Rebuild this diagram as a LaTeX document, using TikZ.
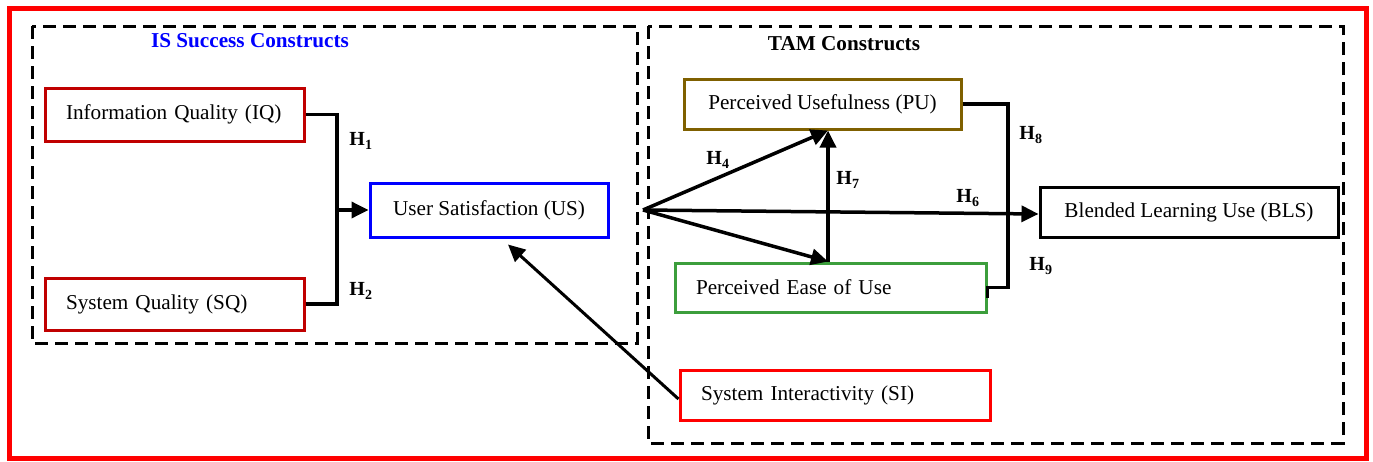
\documentclass[tikz,border=0pt]{standalone}
\usepackage{fontspec}
\setmainfont{Liberation Serif}
\usetikzlibrary{arrows.meta,calc}
\definecolor{dred}{HTML}{C00000}
\definecolor{ublue}{HTML}{0000FF}
\definecolor{pubrown}{HTML}{7F6000}
\definecolor{pgreen}{HTML}{3C9E3C}
\definecolor{sired}{HTML}{FF0000}
\begin{document}
\begin{tikzpicture}[x=1pt,y=-1pt,
  box/.style={draw, line width=3pt, inner sep=0pt, font=\fontsize{21.2}{24}\selectfont},
  lbox/.style={box, align=left, inner xsep=21pt},
  hlab/.style={font=\bfseries\fontsize{20}{22}\selectfont, inner sep=0pt},
  ttl/.style={font=\bfseries\fontsize{21.2}{24}\selectfont, inner sep=0pt},
  conn/.style={line width=3.5pt},
  arr/.style={conn, -{Triangle[length=17pt,width=16pt]}},
  arrs/.style={line width=3pt, -{Triangle[length=17pt,width=16pt]}},
  dbox/.style={draw, line width=3pt, dash pattern=on 13pt off 7pt}
]
\useasboundingbox (0,0) rectangle (1373,461);
% outer red frame
\draw[sired, line width=5pt] (9,8) rectangle (1366,458);
% dashed groups
\draw[dbox] (32,26) rectangle (637,343);
\draw[dbox] (648,26) rectangle (1343,443);
\node[ttl, text=ublue] (tIS) at (250,41) {IS Success Constructs};
\node[ttl] (tTAM) at (844,44) {TAM Constructs};
% boxes
\node[lbox, draw=dred, text width=217pt, minimum height=53pt] (IQ) at (174.5,114.5) {Information Quality (IQ)};
\node[lbox, draw=dred, text width=217pt, minimum height=52pt] (SQ) at (174.5,304) {System Quality (SQ)};
\node[box, draw=ublue, minimum width=238pt, minimum height=54pt] (US) at (489,210) {User Satisfaction (US)};
\node[box, draw=pubrown, minimum width=277pt, minimum height=50pt] (PU) at (822.5,104) {Perceived Usefulness (PU)};
\node[lbox, draw=pgreen, text width=269pt, minimum height=49pt] (PEOU) at (830.5,287.5) {Perceived Ease of Use};
\node[box, draw=black, minimum width=298pt, minimum height=50pt] (BLS) at (1189,212) {Blended Learning Use (BLS)};
\node[lbox, draw=sired, text width=268pt, minimum height=50pt] (SI) at (835,395) {System Interactivity (SI)};
% IS bracket
\coordinate (J) at (337,210);
\draw[conn] (IQ.east) -| (J);
\draw[conn] (SQ.east) -| (J);
\draw[arr] (J) -- (US.west);
\node[hlab] (h1) at (361,141) {H\textsubscript{1}};
\node[hlab] (h2) at (361,291) {H\textsubscript{2}};
% fan
\coordinate (O) at (643,210);
\coordinate (PUb) at ($(PU.south)+(5.5,0)$);
\coordinate (PEt) at ($(PEOU.north)+(-2.5,0)$);
\draw[arr] (O) -- (PUb);
\draw[arr] (O) -- (PEt);
\draw[arr] (PEt) -- (PUb);
\draw[arr] (O) -- ($(BLS.west)+(0,2)$);
% PU-PEOU bracket
\coordinate (B) at (1008,104);
\draw[conn] (PU.east) -- (B) |- (PEOU.east) -- ++(0,10);
% SI -> US
\draw[arrs] ($(SI.west)+(0,4)$) -- ($(US.south)+(19,6)$);
% labels
\node[hlab] (h4) at (718,160) {H\textsubscript{4}};
\node[hlab] (h7) at (848,180) {H\textsubscript{7}};
\node[hlab] (h6) at (968,198) {H\textsubscript{6}};
\node[hlab] (h8) at (1031,135) {H\textsubscript{8}};
\node[hlab] (h9) at (1041,266) {H\textsubscript{9}};
\end{tikzpicture}
\end{document}
